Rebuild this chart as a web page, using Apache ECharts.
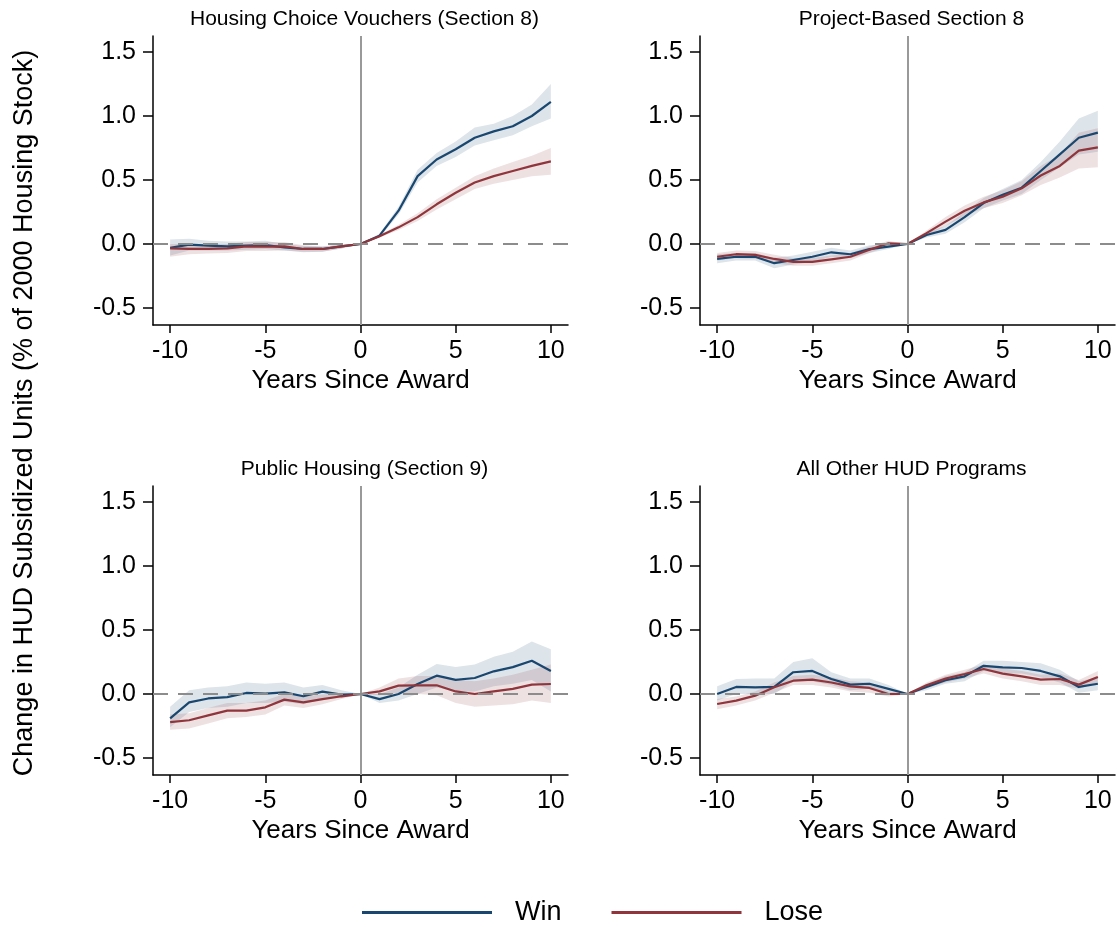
<!DOCTYPE html>
<html>
<head>
<meta charset="utf-8">
<script src="https://cdn.jsdelivr.net/npm/echarts@6/dist/echarts.min.js"></script>
<style>
html, body { margin: 0; padding: 0; background: #fff; }
#chart { width: 1117px; height: 927px; }
</style>
</head>
<body>
<div id="chart"></div>
<script>
const years = [-10, -9, -8, -7, -6, -5, -4, -3, -2, -1, 0, 1, 2, 3, 4, 5, 6, 7, 8, 9, 10];
const xTicks = [-10, -5, 0, 5, 10];
const yTicks = [-0.5, 0, 0.5, 1, 1.5];
const titles = ['Housing Choice Vouchers (Section 8)', 'Project-Based Section 8', 'Public Housing (Section 9)', 'All Other HUD Programs'];

// Housing Choice Vouchers
const hcvWin = [-0.03, -0.005, -0.013, -0.018, -0.013, -0.008, -0.026, -0.039, -0.039, -0.018, 0, 0.065, 0.26, 0.53, 0.66, 0.74, 0.83, 0.88, 0.92, 1.0, 1.11];
const hcvWinLo = [-0.09, -0.05, -0.05, -0.05, -0.045, -0.04, -0.05, -0.06, -0.06, -0.035, 0, 0.05, 0.23, 0.48, 0.61, 0.68, 0.77, 0.81, 0.85, 0.92, 0.98];
const hcvWinHi = [0.035, 0.04, 0.025, 0.02, 0.02, 0.025, 0.0, -0.015, -0.02, -0.005, 0, 0.08, 0.29, 0.58, 0.71, 0.80, 0.91, 0.94, 1.00, 1.09, 1.25];
const hcvLose = [-0.034, -0.039, -0.039, -0.034, -0.018, -0.021, -0.018, -0.039, -0.039, -0.018, 0, 0.06, 0.13, 0.21, 0.31, 0.40, 0.48, 0.53, 0.57, 0.61, 0.645];
const hcvLoseLo = [-0.10, -0.08, -0.075, -0.07, -0.055, -0.055, -0.05, -0.065, -0.06, -0.035, 0, 0.05, 0.11, 0.18, 0.27, 0.35, 0.43, 0.47, 0.50, 0.53, 0.54];
const hcvLoseHi = [0.0, 0.0, -0.005, 0.0, 0.015, 0.015, 0.015, -0.01, -0.02, -0.005, 0, 0.07, 0.15, 0.24, 0.35, 0.44, 0.53, 0.59, 0.64, 0.69, 0.75];

// Project-Based Section 8
const pbWin = [-0.117, -0.10, -0.10, -0.15, -0.125, -0.10, -0.065, -0.08, -0.04, -0.02, 0, 0.07, 0.11, 0.21, 0.32, 0.385, 0.44, 0.57, 0.70, 0.83, 0.87];
const pbWinLo = [-0.15, -0.13, -0.13, -0.19, -0.16, -0.14, -0.10, -0.11, -0.07, -0.04, 0, 0.05, 0.08, 0.17, 0.28, 0.34, 0.39, 0.50, 0.60, 0.70, 0.72];
const pbWinHi = [-0.08, -0.07, -0.07, -0.11, -0.09, -0.06, -0.03, -0.05, -0.01, 0.0, 0, 0.09, 0.14, 0.25, 0.36, 0.43, 0.50, 0.64, 0.80, 0.98, 1.04];
const pbLose = [-0.10, -0.08, -0.085, -0.117, -0.14, -0.14, -0.12, -0.10, -0.045, 0.005, 0, 0.085, 0.175, 0.26, 0.325, 0.37, 0.435, 0.535, 0.61, 0.73, 0.755];
const pbLoseLo = [-0.13, -0.11, -0.115, -0.15, -0.17, -0.17, -0.15, -0.13, -0.07, -0.015, 0, 0.065, 0.14, 0.22, 0.28, 0.32, 0.38, 0.46, 0.52, 0.59, 0.60];
const pbLoseHi = [-0.07, -0.05, -0.055, -0.085, -0.11, -0.11, -0.09, -0.07, -0.02, 0.025, 0, 0.105, 0.21, 0.30, 0.37, 0.42, 0.49, 0.61, 0.70, 0.87, 0.905];

// Public Housing
const phWin = [-0.19, -0.065, -0.035, -0.025, 0.008, 0.003, 0.013, -0.018, 0.018, -0.005, 0, -0.04, 0.0, 0.078, 0.143, 0.11, 0.125, 0.177, 0.21, 0.26, 0.18];
const phWinLo = [-0.26, -0.14, -0.11, -0.10, -0.07, -0.07, -0.06, -0.08, -0.04, -0.03, 0, -0.07, -0.05, 0.0, 0.05, 0.02, 0.02, 0.06, 0.08, 0.11, 0.02];
const phWinHi = [-0.10, 0.03, 0.05, 0.06, 0.09, 0.08, 0.09, 0.05, 0.07, 0.03, 0, 0.0, 0.05, 0.15, 0.235, 0.21, 0.23, 0.29, 0.33, 0.41, 0.35];
const phLose = [-0.22, -0.205, -0.167, -0.13, -0.13, -0.104, -0.044, -0.065, -0.04, -0.018, 0, 0.02, 0.065, 0.068, 0.068, 0.02, 0.0, 0.02, 0.04, 0.073, 0.078];
const phLoseLo = [-0.28, -0.27, -0.23, -0.19, -0.18, -0.16, -0.09, -0.11, -0.08, -0.04, 0, -0.01, 0.01, 0.0, -0.01, -0.07, -0.10, -0.09, -0.08, -0.05, -0.07];
const phLoseHi = [-0.16, -0.15, -0.11, -0.07, -0.07, -0.05, 0.0, -0.02, -0.005, 0.0, 0, 0.05, 0.12, 0.14, 0.14, 0.11, 0.10, 0.12, 0.15, 0.19, 0.23];

// All Other HUD Programs
const otWin = [0.0, 0.055, 0.052, 0.055, 0.17, 0.18, 0.117, 0.073, 0.08, 0.04, 0, 0.055, 0.107, 0.138, 0.22, 0.208, 0.203, 0.18, 0.138, 0.055, 0.08];
const otWinLo = [-0.05, 0.0, 0.0, 0.0, 0.10, 0.10, 0.07, 0.03, 0.04, 0.01, 0, 0.03, 0.08, 0.10, 0.18, 0.16, 0.16, 0.13, 0.09, 0.01, 0.03];
const otWinHi = [0.06, 0.117, 0.12, 0.12, 0.25, 0.28, 0.17, 0.12, 0.12, 0.07, 0, 0.08, 0.14, 0.17, 0.26, 0.26, 0.25, 0.24, 0.19, 0.10, 0.13];
const otLose = [-0.078, -0.052, -0.013, 0.052, 0.104, 0.112, 0.09, 0.06, 0.047, 0.0, 0, 0.068, 0.12, 0.156, 0.195, 0.159, 0.138, 0.112, 0.117, 0.073, 0.133];
const otLoseLo = [-0.12, -0.09, -0.05, 0.01, 0.07, 0.07, 0.05, 0.02, 0.01, -0.02, 0, 0.045, 0.09, 0.12, 0.16, 0.12, 0.10, 0.07, 0.07, 0.04, 0.09];
const otLoseHi = [-0.04, -0.02, 0.02, 0.09, 0.14, 0.15, 0.13, 0.10, 0.09, 0.02, 0, 0.09, 0.15, 0.19, 0.23, 0.20, 0.18, 0.15, 0.16, 0.11, 0.18];

const panels = [
  { win: hcvWin, winLo: hcvWinLo, winHi: hcvWinHi, lose: hcvLose, loseLo: hcvLoseLo, loseHi: hcvLoseHi },
  { win: pbWin, winLo: pbWinLo, winHi: pbWinHi, lose: pbLose, loseLo: pbLoseLo, loseHi: pbLoseHi },
  { win: phWin, winLo: phWinLo, winHi: phWinHi, lose: phLose, loseLo: phLoseLo, loseHi: phLoseHi },
  { win: otWin, winLo: otWinLo, winHi: otWinHi, lose: otLose, loseLo: otLoseLo, loseHi: otLoseHi }
];

const font = 'Liberation Sans';
const navy = '#1a476f';
const maroon = '#90353b';
const gridPos = [
  { left: 153, top: 36 },
  { left: 700, top: 36 },
  { left: 153, top: 486 },
  { left: 700, top: 486 }
];
const gridW = 415;
const gridH = 289;

const chart = echarts.init(document.getElementById('chart'));

let grids = [], xAxes = [], yAxes = [], series = [], titleList = [];

// confidence band as one polygon, built from the band's own data rows
function bandSeries(i, lo, hi, color) {
  return {
    type: 'custom', name: 'band', xAxisIndex: i, yAxisIndex: i, silent: true,
    encode: { x: 0, y: [1, 2] },
    data: years.map((x, k) => [x, lo[k], hi[k]]),
    renderItem: (params, api) => {
      if (params.dataIndex !== 0) return null;
      const upper = years.map((x, k) => api.coord([x, hi[k]]));
      const lower = years.map((x, k) => api.coord([x, lo[k]])).reverse();
      return {
        type: 'polygon',
        shape: { points: upper.concat(lower) },
        style: { fill: color }
      };
    }
  };
}

gridPos.forEach((g, i) => {
  grids.push({ left: g.left, top: g.top, width: gridW, height: gridH });
  titleList.push({
    text: titles[i],
    left: g.left + gridW / 2 - 1,
    top: g.top - 32,
    textAlign: 'center',
    textStyle: { fontSize: 21, fontWeight: 'normal', color: '#000', fontFamily: font }
  });
  xAxes.push({
    type: 'value', gridIndex: i, min: -10.9, max: 10.9,
    name: 'Years Since Award', nameLocation: 'middle', nameGap: 43,
    nameTextStyle: { fontSize: 26, color: '#000', fontFamily: font },
    axisLine: { show: true, onZero: false, lineStyle: { color: '#000', width: 1.5 } },
    axisTick: { show: true, length: 8, lineStyle: { color: '#000', width: 1.5 }, customValues: xTicks },
    axisLabel: { fontSize: 25, color: '#000', fontFamily: font, margin: 14, customValues: xTicks },
    splitLine: { show: false }
  });
  yAxes.push({
    type: 'value', gridIndex: i, min: -0.633, max: 1.625,
    axisLine: { show: true, onZero: false, lineStyle: { color: '#000', width: 1.5 } },
    axisTick: { show: true, length: 10, lineStyle: { color: '#000', width: 1.5 }, customValues: yTicks },
    axisLabel: { fontSize: 25, color: '#000', fontFamily: font, margin: 17, customValues: yTicks,
      formatter: v => v.toFixed(1) },
    splitLine: { show: false }
  });

  const p = panels[i];
  series.push(bandSeries(i, p.winLo, p.winHi, 'rgba(26,71,111,0.15)'));
  series.push(bandSeries(i, p.loseLo, p.loseHi, 'rgba(144,53,59,0.15)'));

  series.push({
    type: 'line', name: 'ref', xAxisIndex: i, yAxisIndex: i,
    symbol: 'none', silent: true, lineStyle: { opacity: 0 }, data: [[0, 0]],
    markLine: {
      silent: true, symbol: 'none', label: { show: false }, animation: false,
      data: [
        { xAxis: 0, lineStyle: { color: '#999', width: 2, type: 'solid' } },
        { yAxis: 0, lineStyle: { color: '#8c8c8c', width: 2, type: [15, 10] } }
      ]
    }
  });

  series.push({
    type: 'line', name: 'Win', xAxisIndex: i, yAxisIndex: i,
    symbol: 'none', color: navy, lineStyle: { color: navy, width: 2.2 },
    data: years.map((x, k) => [x, p.win[k]])
  });
  series.push({
    type: 'line', name: 'Lose', xAxisIndex: i, yAxisIndex: i,
    symbol: 'none', color: maroon, lineStyle: { color: maroon, width: 2.2 },
    data: years.map((x, k) => [x, p.lose[k]])
  });
});

chart.setOption({
  animation: false,
  backgroundColor: '#fff',
  title: titleList,
  grid: grids,
  xAxis: xAxes,
  yAxis: yAxes,
  series: series,
  legend: {
    data: ['Win', 'Lose'],
    left: 357, top: 894,
    icon: 'rect', itemWidth: 130, itemHeight: 3, itemGap: 50,
    textStyle: { fontSize: 27, color: '#000', fontFamily: font, padding: [0, 0, 0, 18] }
  },
  graphic: [{
    type: 'text', x: 25, y: 413, rotation: Math.PI / 2,
    style: {
      text: 'Change in HUD Subsidized Units (% of 2000 Housing Stock)',
      fontSize: 27, fontFamily: font, fill: '#000', align: 'center', verticalAlign: 'middle'
    }
  }]
});
</script>
</body>
</html>
